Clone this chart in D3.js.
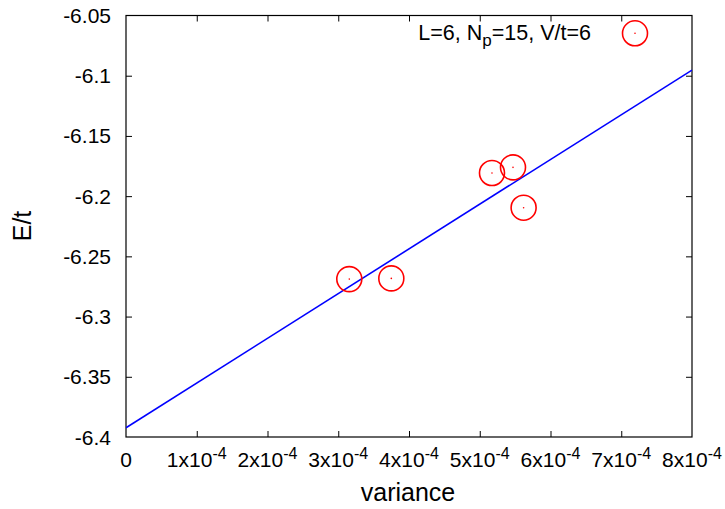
<!DOCTYPE html>
<html>
<head>
<meta charset="utf-8">
<script src="https://cdn.jsdelivr.net/npm/d3@7"></script>
<style>
  html, body { margin: 0; padding: 0; background: #fff; }
  svg { display: block; font-family: "Liberation Sans", Arial, Helvetica, sans-serif; }
</style>
</head>
<body>
<svg id="chart" width="725" height="509"></svg>
<script>
// Measured energies vs. variance
const variance = [3.156e-4, 3.75e-4, 5.173e-4, 5.47e-4, 5.62e-4];
const energy   = [-6.2689, -6.2683, -6.1808, -6.1761, -6.2096];

// Linear fit endpoints across the x range
const fitVariance = [0, 8e-4];
const fitEnergy   = [-6.3923, -6.0953];

// Axis ticks
const xTicks = [0, 1e-4, 2e-4, 3e-4, 4e-4, 5e-4, 6e-4, 7e-4, 8e-4];
const yTicks = [-6.05, -6.1, -6.15, -6.2, -6.25, -6.3, -6.35, -6.4];
const yTickLabels = ["-6.05", "-6.1", "-6.15", "-6.2", "-6.25", "-6.3", "-6.35", "-6.4"];

const svg = d3.select("#chart");
const m = { left: 126, right: 692, top: 15.5, bottom: 437 };

const x = d3.scaleLinear().domain([0, 8e-4]).range([m.left, m.right]);
const y = d3.scaleLinear().domain([-6.4, -6.05]).range([m.bottom, m.top]);

const tickFont = 21;
const tickLen = 6;

// Frame
svg.append("rect")
  .attr("x", m.left).attr("y", m.top)
  .attr("width", m.right - m.left).attr("height", m.bottom - m.top)
  .attr("fill", "none").attr("stroke", "#000").attr("stroke-width", 1.2);

// X axis (bottom) with inward ticks, mirrored on top
const xAxis = d3.axisBottom(x).tickValues(xTicks).tickSize(-tickLen).tickFormat("");
const gx = svg.append("g").attr("transform", `translate(0,${m.bottom})`).call(xAxis);
const xAxisTop = d3.axisTop(x).tickValues(xTicks).tickSize(-tickLen).tickFormat("");
const gxt = svg.append("g").attr("transform", `translate(0,${m.top})`).call(xAxisTop);

// Y axis (left) with inward ticks, mirrored on right
const yAxis = d3.axisLeft(y).tickValues(yTicks).tickSize(-tickLen).tickFormat("");
const gy = svg.append("g").attr("transform", `translate(${m.left},0)`).call(yAxis);
const yAxisRight = d3.axisRight(y).tickValues(yTicks).tickSize(-tickLen).tickFormat("");
const gyr = svg.append("g").attr("transform", `translate(${m.right},0)`).call(yAxisRight);

[gx, gxt, gy, gyr].forEach(g => {
  g.select(".domain").remove();
  g.selectAll(".tick line").attr("stroke", "#000").attr("stroke-width", 1);
  g.selectAll(".tick").filter(d => d === 0 || d === 8e-4 || d === -6.05 || d === -6.4).remove();
});

// X tick labels: "0" and "kx10^-4"
xTicks.forEach(v => {
  const t = svg.append("text")
    .attr("x", x(v)).attr("y", 467)
    .attr("text-anchor", "middle")
    .attr("font-size", tickFont)
    .attr("fill", "#000");
  if (v === 0) {
    t.text("0");
  } else {
    const k = Math.round(v / 1e-4);
    t.append("tspan").text(k + "x10");
    t.append("tspan").attr("dy", -8).attr("font-size", 16).text("-4");
  }
});

// Y tick labels
yTicks.forEach((v, i) => {
  svg.append("text")
    .attr("x", 111).attr("y", y(v))
    .attr("dy", "0.36em")
    .attr("text-anchor", "end")
    .attr("font-size", tickFont)
    .attr("fill", "#000")
    .text(yTickLabels[i]);
});

// Axis titles
svg.append("text")
  .attr("x", 408).attr("y", 501)
  .attr("text-anchor", "middle")
  .attr("font-size", 25)
  .text("variance");

svg.append("text")
  .attr("transform", "translate(31,226) rotate(-90)")
  .attr("text-anchor", "middle")
  .attr("font-size", 25)
  .text("E/t");

// Fit line, clipped to the plot frame
svg.append("defs").append("clipPath").attr("id", "plotClip")
  .append("rect")
  .attr("x", m.left).attr("y", m.top)
  .attr("width", m.right - m.left).attr("height", m.bottom - m.top);

const line = d3.line().x(d => x(d[0])).y(d => y(d[1]));
svg.append("path")
  .datum(d3.zip(fitVariance, fitEnergy))
  .attr("clip-path", "url(#plotClip)")
  .attr("d", line)
  .attr("fill", "none")
  .attr("stroke", "#0000ff")
  .attr("stroke-width", 1.6);

// Data points: open circles with a center dot
const pts = d3.zip(variance, energy);
const gp = svg.append("g");
gp.selectAll("circle.pt").data(pts).join("circle")
  .attr("class", "pt")
  .attr("cx", d => x(d[0])).attr("cy", d => y(d[1]))
  .attr("r", 12.5)
  .attr("fill", "none").attr("stroke", "#ff0000").attr("stroke-width", 1.6);
gp.selectAll("circle.dot").data(pts).join("circle")
  .attr("class", "dot")
  .attr("cx", d => x(d[0])).attr("cy", d => y(d[1]))
  .attr("r", 0.8)
  .attr("fill", "#ff0000");

// Legend
const leg = svg.append("text")
  .attr("x", 591).attr("y", 39.5)
  .attr("text-anchor", "end")
  .attr("font-size", 21.5)
  .attr("fill", "#000");
leg.append("tspan").text("L=6, N");
leg.append("tspan").attr("dy", 6).attr("font-size", 17).text("p");
leg.append("tspan").attr("dy", -6).text("=15, V/t=6");

svg.append("circle")
  .attr("cx", 635).attr("cy", 33.3).attr("r", 12.5)
  .attr("fill", "none").attr("stroke", "#ff0000").attr("stroke-width", 1.6);
svg.append("circle")
  .attr("cx", 635).attr("cy", 33.3).attr("r", 0.8)
  .attr("fill", "#ff0000");
</script>
</body>
</html>
